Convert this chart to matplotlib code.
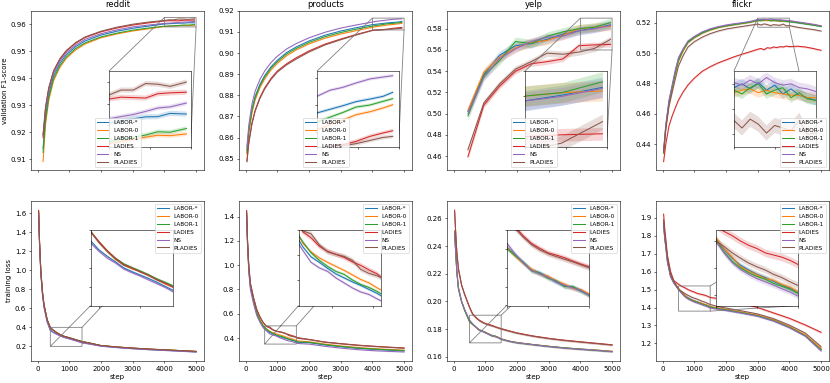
import numpy as np
import matplotlib
matplotlib.use("Agg")
import matplotlib.pyplot as plt
from matplotlib.ticker import MultipleLocator

methods = ["LABOR-*", "LABOR-0", "LABOR-1", "LADIES", "NS", "PLADIES"]
colors = ["tab:blue", "tab:orange", "tab:green", "tab:red", "tab:purple", "tab:brown"]
datasets = ["reddit", "products", "yelp", "flickr"]

# ---------------- validation F1-score ----------------
reddit_f1_steps = [170, 250, 350, 500, 700, 900, 1200, 1500, 2000, 2500, 3000, 3500,
                   4000, 4150, 4300, 4450, 4600, 4750, 4950]
reddit_f1 = {
    "LABOR-*": [0.9140, 0.9260, 0.9340, 0.9408, 0.9455, 0.9486, 0.9517, 0.9538, 0.9560, 0.9574, 0.9585, 0.9593,
                0.96010, 0.96020, 0.96030, 0.96039, 0.96040, 0.96055, 0.96052],
    "LABOR-0": [0.9091, 0.9230, 0.9318, 0.9390, 0.9440, 0.9473, 0.9505, 0.9527, 0.9550, 0.9564, 0.9575, 0.9583,
                0.95915, 0.95925, 0.95936, 0.95945, 0.95954, 0.95952, 0.95960],
    "LABOR-1": [0.9125, 0.9245, 0.9328, 0.9398, 0.9446, 0.9478, 0.9510, 0.9531, 0.9553, 0.9567, 0.9578, 0.9586,
                0.95925, 0.95935, 0.95944, 0.95955, 0.95970, 0.95968, 0.95985],
    "LADIES":  [0.9180, 0.9290, 0.9362, 0.9425, 0.9470, 0.9500, 0.9530, 0.9551, 0.9572, 0.9586, 0.9597, 0.9605,
                0.96121, 0.96130, 0.96128, 0.96126, 0.96146, 0.96150, 0.96153],
    "NS":      [0.9190, 0.9285, 0.9355, 0.9418, 0.9463, 0.9493, 0.9523, 0.9544, 0.9565, 0.9579, 0.9590, 0.9597,
                0.96030, 0.96040, 0.96050, 0.96064, 0.96080, 0.96085, 0.96103],
    "PLADIES": [0.9190, 0.9295, 0.9365, 0.9427, 0.9472, 0.9502, 0.9532, 0.9553, 0.9574, 0.9589, 0.9600, 0.9608,
                0.96140, 0.96163, 0.96163, 0.96193, 0.96190, 0.96180, 0.96200],
}
reddit_f1_band = [0.00012, 0.00010, 0.00010, 0.00012, 0.00010, 0.00012]

products_f1_steps = [40, 100, 200, 300, 450, 600, 800, 1000, 1300, 1600, 2000, 2500, 3000, 3500,
                     4000, 4160, 4320, 4480, 4650, 4810, 4930]
products_f1 = {
    "LABOR-*": [0.8540, 0.8640, 0.8735, 0.8795, 0.8852, 0.8893, 0.8935, 0.8966, 0.9003, 0.9029, 0.9057, 0.9084,
                0.9104, 0.9120, 0.91341, 0.91368, 0.91395, 0.91425, 0.91444, 0.91464, 0.91494],
    "LABOR-0": [0.8520, 0.8620, 0.8718, 0.8778, 0.8836, 0.8877, 0.8920, 0.8951, 0.8988, 0.9015, 0.9043, 0.9070,
                0.9090, 0.9106, 0.91215, 0.91255, 0.91290, 0.91328, 0.91350, 0.91378, 0.91402],
    "LABOR-1": [0.8530, 0.8630, 0.8728, 0.8788, 0.8845, 0.8886, 0.8928, 0.8959, 0.8996, 0.9022, 0.9050, 0.9077,
                0.9097, 0.9113, 0.91275, 0.91310, 0.91345, 0.91385, 0.91400, 0.91427, 0.91447],
    "LADIES":  [0.8490, 0.8580, 0.8670, 0.8730, 0.8790, 0.8835, 0.8880, 0.8915, 0.8950, 0.8978, 0.9010, 0.9042,
                0.9066, 0.9088, 0.91075, 0.91090, 0.91106, 0.91131, 0.91168, 0.91193, 0.91210],
    "NS":      [0.8557, 0.8660, 0.8760, 0.8820, 0.8875, 0.8915, 0.8955, 0.8985, 0.9020, 0.9045, 0.9072, 0.9098,
                0.9118, 0.9133, 0.91464, 0.91509, 0.91531, 0.91563, 0.91593, 0.91607, 0.91617],
    "PLADIES": [0.8486, 0.8575, 0.8665, 0.8725, 0.8785, 0.8830, 0.8875, 0.8910, 0.8945, 0.8972, 0.9005, 0.9038,
                0.9063, 0.9086, 0.91070, 0.91085, 0.91098, 0.91114, 0.91138, 0.91160, 0.91168],
}
products_f1_band = [0.00012, 0.00012, 0.00012, 0.00015, 0.00012, 0.00015]

yelp_f1_steps = [450, 950, 1450, 1950, 2450, 2950, 3450, 3950, 4450, 4950]
yelp_f1 = {
    "LABOR-*": [0.502, 0.537, 0.555, 0.564, 0.566, 0.570, 0.575, 0.5780, 0.5805, 0.5836],
    "LABOR-0": [0.503, 0.539, 0.553, 0.562, 0.567, 0.569, 0.574, 0.5800, 0.5815, 0.5822],
    "LABOR-1": [0.498, 0.536, 0.550, 0.568, 0.566, 0.573, 0.577, 0.5800, 0.5815, 0.5858],
    "LADIES":  [0.4594, 0.508, 0.526, 0.540, 0.547, 0.549, 0.5515, 0.5640, 0.5648, 0.5652],
    "NS":      [0.500, 0.534, 0.552, 0.561, 0.568, 0.572, 0.573, 0.5780, 0.5800, 0.5832],
    "PLADIES": [0.4660, 0.510, 0.528, 0.542, 0.549, 0.557, 0.556, 0.5580, 0.5615, 0.5700],
}
yelp_f1_band = [0.004, 0.004, 0.004, 0.0025, 0.0035, 0.003]

flickr_f1_steps = [30, 100, 200, 300, 400, 500, 650, 800, 1000, 1250, 1500, 1750, 2000, 2250, 2500, 2750,
                   3000, 3100, 3200, 3300, 3400, 3500, 3600, 3700, 3800, 3900, 4000, 4250, 4500, 4750, 5000]
flickr_f1 = {
    "LABOR-*": [0.435, 0.452, 0.468, 0.478, 0.488, 0.4960, 0.5025, 0.5075, 0.5105, 0.5135, 0.5155, 0.5170,
                0.5180, 0.5188, 0.5196, 0.5204, 0.5217, 0.5220, 0.5216, 0.5221, 0.5215, 0.5219, 0.5212,
                0.5216, 0.5211, 0.5209, 0.5207, 0.5200, 0.5193, 0.5185, 0.5176],
    "LABOR-0": [0.434, 0.450, 0.466, 0.476, 0.486, 0.4945, 0.5015, 0.5068, 0.5100, 0.5130, 0.5151, 0.5167,
                0.5178, 0.5187, 0.5195, 0.5203, 0.5213, 0.5215, 0.5216, 0.5213, 0.5215, 0.5213, 0.5212,
                0.5211, 0.5211, 0.5209, 0.5209, 0.5202, 0.5195, 0.5187, 0.5178],
    "LABOR-1": [0.434, 0.451, 0.467, 0.477, 0.487, 0.4950, 0.5020, 0.5070, 0.5102, 0.5132, 0.5153, 0.5168,
                0.5179, 0.5187, 0.5195, 0.5203, 0.5215, 0.5212, 0.5217, 0.5220, 0.5212, 0.5215, 0.5217,
                0.5209, 0.5213, 0.5208, 0.5207, 0.5200, 0.5192, 0.5184, 0.5175],
    "LADIES":  [0.4284, 0.440, 0.452, 0.4585, 0.464, 0.4690, 0.4745, 0.4790, 0.4835, 0.4880, 0.4910, 0.4935,
                0.4955, 0.4975, 0.4992, 0.5008, 0.5025, 0.5030, 0.5022, 0.5035, 0.5032, 0.5040, 0.5036,
                0.5042, 0.5040, 0.5046, 0.5042, 0.5045, 0.5040, 0.5030, 0.5018],
    "NS":      [0.436, 0.453, 0.469, 0.479, 0.489, 0.4970, 0.5030, 0.5080, 0.5110, 0.5140, 0.5160, 0.5174,
                0.5185, 0.5193, 0.5200, 0.5208, 0.5221, 0.5219, 0.5223, 0.5220, 0.5225, 0.5221, 0.5219,
                0.5220, 0.5217, 0.5216, 0.5214, 0.5206, 0.5198, 0.5190, 0.5180],
    "PLADIES": [0.435, 0.450, 0.465, 0.474, 0.483, 0.4915, 0.4985, 0.5040, 0.5075, 0.5105, 0.5128, 0.5145,
                0.5158, 0.5167, 0.5175, 0.5183, 0.5191, 0.5185, 0.5192, 0.5188, 0.5181, 0.5187, 0.5185,
                0.5183, 0.5191, 0.5180, 0.5181, 0.5170, 0.5162, 0.5155, 0.5145],
}
flickr_f1_band = [0.0004, 0.0004, 0.0004, 0.0006, 0.0004, 0.0006]

# ---------------- training loss ----------------
reddit_loss_steps = [30, 60, 100, 150, 200, 300, 400, 500, 600, 700, 800, 900, 1000, 1100, 1200, 1300,
                     1400, 1600, 2000, 2500, 3000, 3500, 4000, 4500, 5000]
reddit_loss = {
    "LABOR-*": [1.60, 1.27, 0.97, 0.76, 0.62, 0.460, 0.372, 0.348, 0.331, 0.316, 0.300, 0.290, 0.281, 0.272,
                0.262, 0.251, 0.240, 0.229, 0.204, 0.189, 0.177, 0.167, 0.159, 0.151, 0.142],
    "LABOR-0": [1.63, 1.30, 1.00, 0.78, 0.64, 0.480, 0.398, 0.368, 0.343, 0.322, 0.308, 0.297, 0.291, 0.279,
                0.270, 0.257, 0.249, 0.237, 0.208, 0.193, 0.181, 0.171, 0.163, 0.155, 0.146],
    "LABOR-1": [1.62, 1.29, 0.99, 0.78, 0.64, 0.480, 0.397, 0.369, 0.345, 0.326, 0.311, 0.301, 0.292, 0.282,
                0.271, 0.262, 0.252, 0.239, 0.209, 0.194, 0.182, 0.172, 0.164, 0.156, 0.147],
    "LADIES":  [1.63, 1.30, 1.00, 0.78, 0.64, 0.480, 0.396, 0.370, 0.346, 0.325, 0.309, 0.300, 0.289, 0.281,
                0.268, 0.259, 0.248, 0.236, 0.208, 0.193, 0.182, 0.171, 0.163, 0.155, 0.147],
    "NS":      [1.59, 1.26, 0.96, 0.75, 0.61, 0.455, 0.366, 0.344, 0.326, 0.313, 0.297, 0.287, 0.278, 0.268,
                0.258, 0.248, 0.236, 0.226, 0.202, 0.187, 0.175, 0.165, 0.157, 0.149, 0.140],
    "PLADIES": [1.62, 1.29, 0.99, 0.77, 0.63, 0.480, 0.396, 0.367, 0.344, 0.324, 0.307, 0.299, 0.290, 0.280,
                0.269, 0.260, 0.250, 0.237, 0.208, 0.193, 0.181, 0.171, 0.163, 0.155, 0.146],
}
reddit_loss_band = [0.003, 0.003, 0.003, 0.003, 0.003, 0.003]

products_loss_steps = [30, 60, 100, 150, 250, 350, 450, 550, 650, 750, 850, 950, 1050, 1150, 1250, 1350,
                       1450, 1550, 1650, 2000, 2500, 3000, 3500, 4000, 4500, 5000]
products_loss = {
    "LABOR-*": [1.42, 1.17, 0.96, 0.82, 0.70, 0.600, 0.540, 0.495, 0.467, 0.447, 0.436, 0.424, 0.413, 0.405,
                0.397, 0.390, 0.382, 0.374, 0.364, 0.362, 0.343, 0.328, 0.316, 0.307, 0.300, 0.294],
    "LABOR-0": [1.43, 1.18, 0.97, 0.83, 0.71, 0.610, 0.548, 0.505, 0.474, 0.457, 0.445, 0.436, 0.428, 0.420,
                0.411, 0.402, 0.395, 0.385, 0.376, 0.369, 0.350, 0.335, 0.323, 0.313, 0.306, 0.300],
    "LABOR-1": [1.43, 1.18, 0.97, 0.83, 0.71, 0.610, 0.545, 0.502, 0.477, 0.455, 0.440, 0.428, 0.418, 0.412,
                0.401, 0.392, 0.386, 0.378, 0.368, 0.365, 0.346, 0.331, 0.319, 0.310, 0.303, 0.297],
    "LADIES":  [1.45, 1.20, 0.99, 0.85, 0.73, 0.635, 0.575, 0.530, 0.497, 0.485, 0.468, 0.458, 0.452, 0.446,
                0.437, 0.430, 0.421, 0.413, 0.398, 0.388, 0.367, 0.354, 0.342, 0.333, 0.325, 0.318],
    "NS":      [1.40, 1.15, 0.94, 0.80, 0.68, 0.585, 0.530, 0.485, 0.460, 0.436, 0.425, 0.418, 0.405, 0.395,
                0.385, 0.377, 0.372, 0.363, 0.355, 0.350, 0.332, 0.317, 0.305, 0.296, 0.290, 0.285],
    "PLADIES": [1.45, 1.20, 0.99, 0.85, 0.73, 0.633, 0.573, 0.528, 0.499, 0.493, 0.471, 0.457, 0.452, 0.448,
                0.440, 0.422, 0.414, 0.409, 0.403, 0.388, 0.366, 0.353, 0.341, 0.332, 0.324, 0.317],
}
products_loss_band = [0.003, 0.003, 0.003, 0.005, 0.003, 0.005]

yelp_loss_steps = [30, 60, 100, 150, 250, 350, 500, 600, 700, 800, 900, 1000, 1100, 1200, 1300, 1400,
                   1500, 1750, 2000, 2500, 3000, 3500, 4000, 4500, 5000]
yelp_loss = {
    "LABOR-*": [0.251, 0.238, 0.222, 0.210, 0.2000, 0.1935, 0.1856, 0.1835, 0.1815, 0.1795, 0.1787, 0.1776,
                0.1762, 0.1752, 0.1748, 0.1738, 0.1728, 0.1712, 0.1702, 0.1688, 0.1675, 0.1664, 0.1656,
                0.1648, 0.1638],
    "LABOR-0": [0.251, 0.238, 0.222, 0.210, 0.2000, 0.1935, 0.1855, 0.1832, 0.1812, 0.1797, 0.1784, 0.1778,
                0.1765, 0.1757, 0.1745, 0.1742, 0.1730, 0.1713, 0.1703, 0.1688, 0.1676, 0.1663, 0.1655,
                0.1648, 0.1640],
    "LABOR-1": [0.250, 0.237, 0.221, 0.209, 0.1995, 0.1932, 0.1852, 0.1833, 0.1815, 0.1792, 0.1786, 0.1772,
                0.1766, 0.1750, 0.1751, 0.1739, 0.1726, 0.1712, 0.1700, 0.1687, 0.1674, 0.1664, 0.1654,
                0.1645, 0.1637],
    "LADIES":  [0.266, 0.252, 0.236, 0.224, 0.2120, 0.2050, 0.1960, 0.1910, 0.1885, 0.1865, 0.1852, 0.1840,
                0.1834, 0.1827, 0.1818, 0.1810, 0.1803, 0.1787, 0.1772, 0.1750, 0.1733, 0.1719, 0.1708,
                0.1697, 0.1686],
    "NS":      [0.250, 0.237, 0.221, 0.209, 0.2000, 0.1940, 0.1866, 0.1838, 0.1813, 0.1793, 0.1784, 0.1775,
                0.1763, 0.1754, 0.1747, 0.1740, 0.1727, 0.1712, 0.1701, 0.1687, 0.1673, 0.1662, 0.1653,
                0.1646, 0.1636],
    "PLADIES": [0.265, 0.251, 0.235, 0.223, 0.2115, 0.2045, 0.1955, 0.1905, 0.1882, 0.1862, 0.1848, 0.1838,
                0.1830, 0.1823, 0.1816, 0.1808, 0.1800, 0.1785, 0.1770, 0.1748, 0.1731, 0.1717, 0.1706,
                0.1695, 0.1684],
}
yelp_loss_band = [0.0006, 0.0006, 0.0006, 0.0007, 0.0006, 0.0007]

flickr_loss_steps = [30, 60, 100, 150, 250, 350, 500, 600, 700, 800, 900, 1000, 1100, 1200, 1300, 1400,
                     1500, 1750, 2000, 2500, 3000, 3500, 4000, 4500, 5000]
flickr_loss = {
    "LABOR-*": [1.87, 1.80, 1.74, 1.66, 1.575, 1.540, 1.505, 1.485, 1.468, 1.455, 1.446, 1.438, 1.432, 1.425,
                1.418, 1.412, 1.404, 1.396, 1.388, 1.372, 1.355, 1.330, 1.292, 1.245, 1.168],
    "LABOR-0": [1.88, 1.81, 1.75, 1.67, 1.580, 1.545, 1.507, 1.486, 1.470, 1.452, 1.444, 1.437, 1.430, 1.427,
                1.419, 1.414, 1.405, 1.397, 1.390, 1.374, 1.357, 1.331, 1.294, 1.248, 1.172],
    "LABOR-1": [1.87, 1.80, 1.74, 1.66, 1.575, 1.540, 1.503, 1.480, 1.462, 1.450, 1.441, 1.434, 1.429, 1.421,
                1.416, 1.410, 1.402, 1.394, 1.386, 1.371, 1.354, 1.327, 1.290, 1.243, 1.163],
    "LADIES":  [1.92, 1.85, 1.78, 1.69, 1.600, 1.550, 1.530, 1.518, 1.510, 1.500, 1.492, 1.486, 1.478, 1.474,
                1.470, 1.464, 1.456, 1.450, 1.440, 1.425, 1.400, 1.370, 1.340, 1.303, 1.262],
    "NS":      [1.86, 1.79, 1.73, 1.65, 1.570, 1.535, 1.500, 1.478, 1.460, 1.447, 1.438, 1.430, 1.424, 1.418,
                1.411, 1.405, 1.397, 1.390, 1.383, 1.368, 1.351, 1.324, 1.287, 1.240, 1.158],
    "PLADIES": [1.89, 1.82, 1.76, 1.68, 1.585, 1.548, 1.500, 1.490, 1.478, 1.468, 1.459, 1.452, 1.446, 1.438,
                1.432, 1.424, 1.417, 1.405, 1.397, 1.381, 1.364, 1.338, 1.302, 1.258, 1.182],
}
flickr_loss_band = [0.005, 0.005, 0.005, 0.007, 0.005, 0.006]

top_rows = [(reddit_f1_steps, reddit_f1, reddit_f1_band),
            (products_f1_steps, products_f1, products_f1_band),
            (yelp_f1_steps, yelp_f1, yelp_f1_band),
            (flickr_f1_steps, flickr_f1, flickr_f1_band)]
bottom_rows = [(reddit_loss_steps, reddit_loss, reddit_loss_band),
               (products_loss_steps, products_loss, products_loss_band),
               (yelp_loss_steps, yelp_loss, yelp_loss_band),
               (flickr_loss_steps, flickr_loss, flickr_loss_band)]

top_ylims = [(0.906, 0.965), (0.8447, 0.920), (0.4469, 0.597), (0.4229, 0.5279)]
top_ystep = [0.01, 0.01, 0.02, 0.02]
bot_ylims = [(0.049, 1.733), (0.213, 1.532), (0.1571, 0.2728), (1.104, 1.9946)]
bot_ystep = [0.2, 0.2, 0.02, 0.1]
top_zoom = [((4000, 5000), (0.959, 0.9625)), ((4000, 5000), (0.9109, 0.9165)),
            ((4000, 5000), (0.56, 0.59)), ((3000, 4000), (0.517, 0.523))]
bot_zoom = [((400, 1400), (0.2, 0.4)), ((600, 1600), (0.35, 0.5)),
            ((500, 1500), (0.17, 0.19)), ((500, 1500), (1.38, 1.52))]
top_legend_loc = ["lower center", "lower center", "lower center", "lower right"]

fig = plt.figure(figsize=(16.6, 7.66), dpi=50)
lefts = [31 / 830, 239 / 830, 447 / 830, 656 / 830]
W = 173 / 830
top_b, top_h = (383 - 170) / 383, 159.3 / 383
bot_b, bot_h = (383 - 360.7) / 383, 160 / 383


def draw_series(ax, steps, data, band):
    x = np.array(steps)
    for m, c, b in zip(methods, colors, band):
        y = np.array(data[m])
        ax.fill_between(x, y - b, y + b, color=c, alpha=0.2, lw=0)
        ax.plot(x, y, color=c, lw=1.5, label=m)


for i in range(4):
    for row in range(2):
        if row == 0:
            ax = fig.add_axes([lefts[i], top_b, W, top_h])
            steps, data, band = top_rows[i]
            ylim, ystep = top_ylims[i], top_ystep[i]
            (zx, zy) = top_zoom[i]
            inset_rect = [0.45, 0.145, 0.472, 0.475]
        else:
            ax = fig.add_axes([lefts[i], bot_b, W, bot_h])
            steps, data, band = bottom_rows[i]
            ylim, ystep = bot_ylims[i], bot_ystep[i]
            (zx, zy) = bot_zoom[i]
            inset_rect = [0.345, 0.345, 0.478, 0.47]
        draw_series(ax, steps, data, band)
        ax.set_xlim(-210, 5250)
        ax.set_ylim(*ylim)
        ax.xaxis.set_major_locator(MultipleLocator(1000))
        ax.yaxis.set_major_locator(MultipleLocator(ystep))
        if row == 0:
            ax.set_title(datasets[i], fontsize=12)
            ax.tick_params(labelbottom=False)
            if i == 0:
                ax.set_ylabel("validation F1-score")
        else:
            ax.set_xlabel("step")
            if i == 0:
                ax.set_ylabel("training loss")

        axins = ax.inset_axes(inset_rect)
        draw_series(axins, steps, data, band)
        axins.set_xlim(*zx)
        axins.set_ylim(*zy)
        axins.tick_params(labelbottom=False, labelleft=False)
        ax.indicate_inset_zoom(axins, edgecolor="0.45", alpha=0.9, linewidth=1.2)

        loc = top_legend_loc[i] if row == 0 else "upper right"
        leg = ax.legend(loc=loc, fontsize=8.3)
        leg.set_zorder(10)

fig.savefig("out.png", dpi=50)
